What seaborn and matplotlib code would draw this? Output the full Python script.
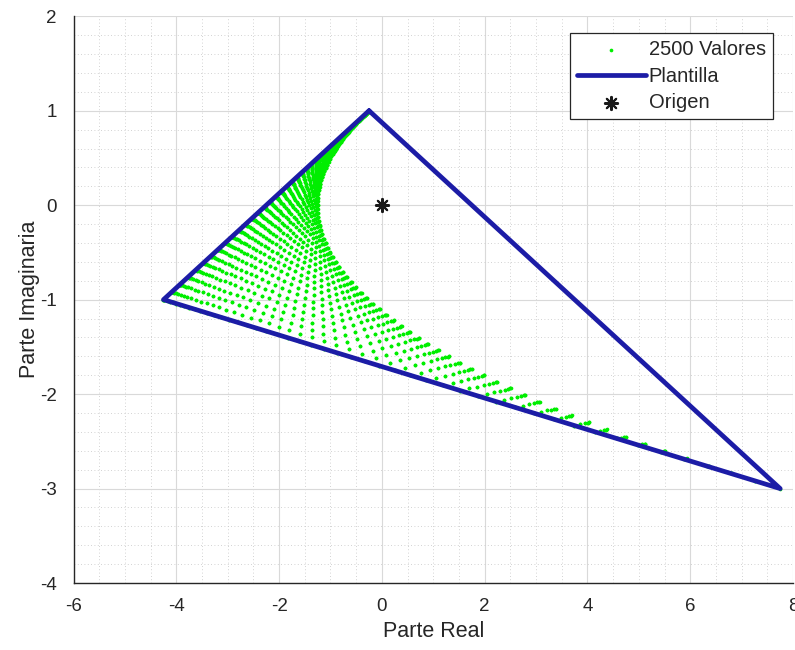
import numpy as np
import pandas as pd
import matplotlib
matplotlib.use("Agg")
import matplotlib.pyplot as plt
import seaborn as sns
from matplotlib.ticker import MultipleLocator

# Plantilla (template) vertices, closed polygon: top, right, left, top
plantilla_re = [-0.25, 7.75, -4.25, -0.25]
plantilla_im = [1.0, -3.0, -1.0, 1.0]

n_valores = 50  # 50 x 50 grid of the two uncertain parameters -> 2500 values

origen_re = [0.0]
origen_im = [0.0]

x_ticks = [-6, -4, -2, 0, 2, 4, 6, 8]
y_ticks = [-4, -3, -2, -1, 0, 1, 2]

# value set: multilinear in (q1, q2) with the template vertices as images of
# the parameter-box corners (folds along q1 == q2); the parameter enters squared
A = np.array([plantilla_re[0], plantilla_im[0]])
C = np.array([plantilla_re[1], plantilla_im[1]])
B = np.array([plantilla_re[2], plantilla_im[2]])
k = np.linspace(0, 1, n_valores)
q = k ** 2
q1, q2 = np.meshgrid(q, q)
suma = (q1 + q2).ravel()[:, None]
prod = (q1 * q2).ravel()[:, None]
pts = A + suma * (B - A) + prod * (C - 2 * B + A)
valores = pd.DataFrame({"re": pts[:, 0], "im": pts[:, 1]})

sns.set_theme(style="white")
plt.rcParams['font.family'] = ['Liberation Sans', 'DejaVu Sans']
plt.rcParams['axes.unicode_minus'] = False

fig = plt.figure(figsize=(7.95, 6.5), dpi=100)
ax = fig.add_axes([0.0925, 0.103, 0.905, 0.872])

sns.scatterplot(data=valores, x="re", y="im", color="#00ee00", s=7,
                linewidth=0, marker="o", label="2500 Valores", ax=ax, zorder=2)
sns.lineplot(x=plantilla_re, y=plantilla_im, sort=False, estimator=None,
             color="#1c1ca6", linewidth=3.4, label="Plantilla", ax=ax, zorder=3)
sns.scatterplot(x=origen_re, y=origen_im, marker=(8, 2, 0), color="k",
                edgecolor="k", s=90, linewidth=1.5, label="Origen", ax=ax, zorder=4)

ax.set_xlim(-6, 8)
ax.set_ylim(-4, 2)
ax.set_xticks(x_ticks)
ax.set_yticks(y_ticks)
ax.xaxis.set_minor_locator(MultipleLocator(0.5))
ax.yaxis.set_minor_locator(MultipleLocator(0.2))

ax.grid(which="major", color="#d9d9d9", linewidth=0.8, linestyle="-")
ax.grid(which="minor", color="#c4c4c4", linewidth=0.6, linestyle=(0, (1, 3)))
ax.set_axisbelow(True)

for side in ["top", "right"]:
    ax.spines[side].set_visible(False)
for side in ["left", "bottom"]:
    ax.spines[side].set_color("#262626")
    ax.spines[side].set_linewidth(1.0)

ax.tick_params(which="major", direction="in", length=5, width=0.8,
               colors="#262626", labelsize=13.5)
ax.tick_params(axis="x", which="major", pad=11)
ax.tick_params(axis="y", which="major", pad=12)
ax.tick_params(which="minor", direction="in", length=2.5, width=0.6,
               colors="#262626")

ax.set_xlabel("Parte Real", fontsize=15.5, color="#262626", labelpad=4)
ax.set_ylabel("Parte Imaginaria", fontsize=15.5, color="#262626", labelpad=0)

leg = ax.legend(loc="upper right", bbox_to_anchor=(0.972, 0.9705), fontsize=14.5,
                frameon=True, fancybox=False, framealpha=1, edgecolor="#262626",
                handlelength=3.4, borderpad=0.35, labelspacing=0.38,
                handletextpad=0.15, borderaxespad=0)
leg.get_frame().set_linewidth(0.9)

fig.savefig("out.png", dpi=100)
